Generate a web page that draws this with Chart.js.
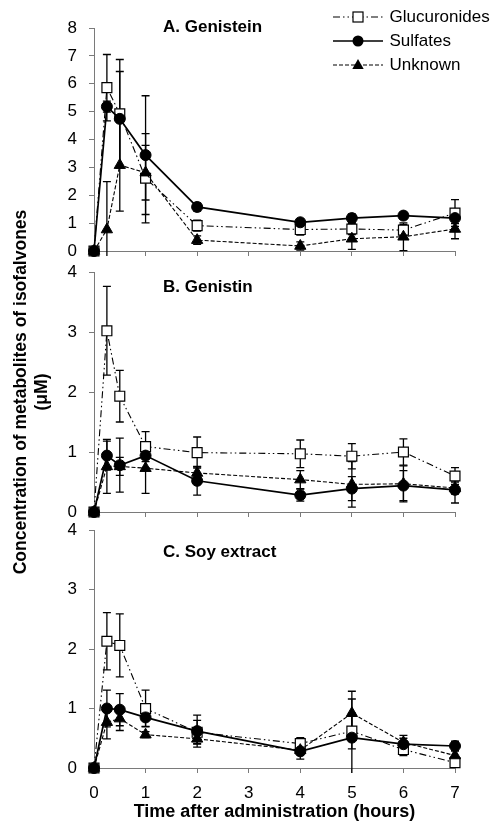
<!DOCTYPE html>
<html>
<head>
<meta charset="utf-8">
<script src="https://cdn.jsdelivr.net/npm/chart.js@4.4.1/dist/chart.umd.min.js"></script>
<style>
html, body { margin: 0; padding: 0; background: #fff; }
#wrap { position: relative; width: 491px; height: 823px; }
canvas { position: absolute; left: 0; top: 0; }
</style>
</head>
<body>
<div id="wrap">
  <canvas id="cA" width="491" height="823"></canvas>
  <canvas id="cB" width="491" height="823"></canvas>
  <canvas id="cC" width="491" height="823"></canvas>
</div>
<script>
// ---------------- data ----------------
const times = [0, 0.25, 0.5, 1, 2, 4, 5, 6, 7];
const seriesNames = ['Glucuronides', 'Sulfates', 'Unknown'];
const panelTitles = ['A. Genistein', 'B. Genistin', 'C. Soy extract'];
const xTicks = [0, 1, 2, 3, 4, 5, 6, 7];
const yTicksA = [0, 1, 2, 3, 4, 5, 6, 7, 8];
const yTicksBC = [0, 1, 2, 3, 4];
const xTitle = 'Time after administration (hours)';
const yTitle = ['Concentration of metabolites of isofalvones', '(\u03bcM)'];

// Panel A: Genistein
const glucA    = [0, 5.86, 4.92, 2.61, 0.91, 0.77, 0.79, 0.75, 1.36];
const glucA_sd = [0, 1.19, 1.95, 1.60, 0.20, 0.20, 0.20, 0.20, 0.48];
const sulfA    = [0, 5.18, 4.74, 3.44, 1.58, 1.03, 1.18, 1.27, 1.18];
const sulfA_sd = [0, 0.20, 1.70, 2.13, 0.15, 0.12, 0.15, 0.12, 0.20];
const unkA     = [0, 0.77, 3.08, 2.81, 0.39, 0.18, 0.44, 0.51, 0.79];
const unkA_sd  = [0, 1.72, 1.65, 0.98, 0.15, 0.15, 0.38, 0.50, 0.35];

// Panel B: Genistin
const glucB    = [0, 3.02, 1.93, 1.09, 0.99, 0.97, 0.93, 1.00, 0.60];
const glucB_sd = [0, 0.74, 0.43, 0.25, 0.26, 0.23, 0.21, 0.22, 0.14];
const sulfB    = [0, 0.94, 0.78, 0.94, 0.52, 0.28, 0.39, 0.44, 0.37];
const sulfB_sd = [0, 0.24, 0.45, 0.20, 0.24, 0.10, 0.20, 0.25, 0.22];
const unkB     = [0, 0.76, 0.76, 0.73, 0.65, 0.54, 0.46, 0.47, 0.40];
const unkB_sd  = [0, 0.45, 0.15, 0.42, 0.10, 0.15, 0.38, 0.30, 0.10];

// Panel C: Soy extract
const glucC    = [0, 2.13, 2.06, 1.00, 0.60, 0.41, 0.62, 0.31, 0.09];
const glucC_sd = [0, 0.48, 0.53, 0.31, 0.20, 0.10, 0.30, 0.10, 0.05];
const sulfC    = [0, 1.00, 0.98, 0.85, 0.62, 0.28, 0.51, 0.40, 0.37];
const sulfC_sd = [0, 0.31, 0.27, 0.15, 0.27, 0.13, 0.65, 0.10, 0.08];
const unkC     = [0, 0.77, 0.83, 0.56, 0.49, 0.30, 0.92, 0.43, 0.21];
const unkC_sd  = [0, 0.28, 0.20, 0.05, 0.08, 0.05, 0.37, 0.12, 0.08];

// ---------------- styles ----------------
Chart.defaults.font.family = "'Liberation Sans', Arial, Helvetica, sans-serif";
Chart.defaults.color = '#000';
const AXIS = '#7a7a7a';

const STYLES = [
  { pointStyle: 'rect', pointRadius: 7, pointBackgroundColor: '#fff', pointBorderColor: '#000', pointBorderWidth: 1.2,
    borderColor: '#000', borderWidth: 1.1, borderDash: [7, 3, 1.5, 3, 1.5, 3], order: 3 },
  { pointStyle: 'circle', pointRadius: 5.5, pointBackgroundColor: '#000', pointBorderColor: '#000', pointBorderWidth: 1,
    borderColor: '#000', borderWidth: 1.7, borderDash: [], order: 2 },
  { pointStyle: 'triangle', pointRadius: 6.5, pointBackgroundColor: '#000', pointBorderColor: '#000', pointBorderWidth: 1,
    borderColor: '#000', borderWidth: 1.1, borderDash: [4, 2], order: 1 }
];

function legendSample(i) {
  const c = document.createElement('canvas');
  c.width = 50; c.height = 16;
  const g = c.getContext('2d');
  const s = STYLES[i];
  g.strokeStyle = '#000';
  g.lineWidth = s.borderWidth;
  g.setLineDash(s.borderDash);
  g.beginPath(); g.moveTo(0, 8); g.lineTo(50, 8); g.stroke();
  g.setLineDash([]);
  g.lineWidth = 1.2;
  if (i === 0) {
    g.fillStyle = '#fff';
    g.fillRect(20, 3, 10, 10);
    g.strokeRect(20, 3, 10, 10);
  } else if (i === 1) {
    g.fillStyle = '#000';
    g.beginPath(); g.arc(25, 8, 5.5, 0, Math.PI * 2); g.fill();
  } else {
    g.fillStyle = '#000';
    g.beginPath(); g.moveTo(25, 2); g.lineTo(30.7, 12); g.lineTo(19.3, 12); g.closePath(); g.fill();
  }
  return c;
}
const samples = [0, 1, 2].map(legendSample);

function makeDatasets(vals, sds) {
  return vals.map((v, i) => Object.assign({
    label: seriesNames[i],
    data: times.map((t, k) => ({ x: t, y: v[k] })),
    errors: sds[i],
    tension: 0,
    clip: false,
    fill: false
  }, STYLES[i]));
}

// error bars drawn through the chart scales
const errorBarPlugin = {
  id: 'errorBars',
  beforeDatasetsDraw(chart) {
    const { ctx, chartArea: a, scales: { x, y } } = chart;
    ctx.save();
    ctx.beginPath();
    ctx.rect(a.left - 10, a.top - 12, a.right - a.left + 20, a.bottom - a.top + 17);
    ctx.clip();
    ctx.strokeStyle = '#000';
    ctx.lineWidth = 1.3;
    ctx.setLineDash([]);
    chart.data.datasets.forEach(ds => {
      ds.data.forEach((p, i) => {
        const e = ds.errors[i];
        if (!e) return;
        const px = x.getPixelForValue(p.x);
        const y1 = y.getPixelForValue(p.y + e);
        const y2 = y.getPixelForValue(p.y - e);
        ctx.beginPath();
        ctx.moveTo(px, y1); ctx.lineTo(px, y2);
        ctx.moveTo(px - 4, y1); ctx.lineTo(px + 4, y1);
        ctx.moveTo(px - 4, y2); ctx.lineTo(px + 4, y2);
        ctx.stroke();
      });
    });
    ctx.restore();
  }
};

function placePlugin(titleLeft, titleCy, legendPos) {
  return {
    id: 'place',
    afterLayout(chart) {
      const t = chart.titleBlock;
      if (t) {
        const h = t.height;
        t.left = titleLeft; t.right = 491;
        t.top = titleCy - h / 2; t.bottom = t.top + h;
        t.width = t.right - t.left;
      }
      if (legendPos && chart.legend) {
        const l = chart.legend;
        l.left = legendPos.left; l.top = legendPos.top;
        l.right = 491; l.bottom = legendPos.top + 200;
      }
    }
  };
}

function makeY(ticksArr, withTitle) {
  return {
    type: 'linear',
    min: ticksArr[0], max: ticksArr[ticksArr.length - 1],
    afterBuildTicks: s => { s.ticks = ticksArr.map(v => ({ value: v })); },
    afterFit: s => { s.width = 94; },
    grid: { display: true, drawOnChartArea: false, drawTicks: true, tickLength: 5, color: AXIS, lineWidth: 1 },
    border: { display: true, color: AXIS, width: 1 },
    ticks: { color: '#000', padding: 12, font: { size: 17 } },
    title: withTitle ? {
      display: true, text: yTitle, color: '#000',
      font: { size: 17.5, weight: 'bold', lineHeight: 1.2 },
      padding: { top: 11, bottom: 0 }
    } : { display: false }
  };
}

function makeX(showLabels) {
  return {
    type: 'linear', min: 0, max: 7,
    afterBuildTicks: s => { s.ticks = xTicks.map(v => ({ value: v })); },
    afterFit: s => { s.height = showLabels ? 55 : 6; },
    grid: { display: true, drawOnChartArea: false, drawTicks: true, tickLength: 5, color: AXIS, lineWidth: 1 },
    border: { display: true, color: AXIS, width: 1 },
    ticks: { display: showLabels, padding: 10, font: { size: 17 }, color: '#000', maxRotation: 0, autoSkip: false },
    title: showLabels ? {
      display: true, text: xTitle, color: '#000',
      font: { size: 18, weight: 'bold' }, padding: { top: 0, bottom: 0 }
    } : { display: false }
  };
}

function makeChart(id, vals, sds, yTicks, opts) {
  const titleH = 17 * 1.2;
  return new Chart(document.getElementById(id), {
    type: 'line',
    data: { datasets: makeDatasets(vals, sds) },
    options: {
      responsive: false,
      devicePixelRatio: 1,
      animation: false,
      events: [],
      layout: { padding: { left: 0, right: 36, top: opts.top - titleH, bottom: opts.bottom } },
      scales: { x: makeX(opts.xLabels), y: makeY(yTicks, opts.yTitle) },
      plugins: {
        tooltip: { enabled: false },
        title: {
          display: true, text: opts.title, align: 'start', color: '#000',
          padding: 0, font: { size: 17, weight: 'bold', lineHeight: 1.2 }
        },
        legend: opts.legend ? {
          display: true, position: 'chartArea', align: 'start',
          labels: {
            usePointStyle: true, pointStyleWidth: 46, boxHeight: 17, padding: 7,
            font: { size: 17 }, color: '#000',
            generateLabels: chart => chart.data.datasets.map((ds, i) => ({
              text: ds.label, pointStyle: samples[i], datasetIndex: i, hidden: false,
              fillStyle: '#000', strokeStyle: '#000', lineWidth: 0, fontColor: '#000'
            })),
            sort: (a, b) => a.datasetIndex - b.datasetIndex
          }
        } : { display: false }
      }
    },
    plugins: [errorBarPlugin, placePlugin(163, opts.titleCy, opts.legend ? { left: 328, top: 1.5 } : null)]
  });
}

makeChart('cA', [glucA, sulfA, unkA], [glucA_sd, sulfA_sd, unkA_sd], yTicksA,
  { top: 28, bottom: 823 - 251 - 6, xLabels: false, yTitle: false, title: panelTitles[0], titleCy: 27, legend: true });
makeChart('cB', [glucB, sulfB, unkB], [glucB_sd, sulfB_sd, unkB_sd], yTicksBC,
  { top: 272, bottom: 823 - 512 - 6, xLabels: false, yTitle: true, title: panelTitles[1], titleCy: 287, legend: false });
makeChart('cC', [glucC, sulfC, unkC], [glucC_sd, sulfC_sd, unkC_sd], yTicksBC,
  { top: 530, bottom: 0, xLabels: true, yTitle: false, title: panelTitles[2], titleCy: 552, legend: false });
</script>
</body>
</html>
